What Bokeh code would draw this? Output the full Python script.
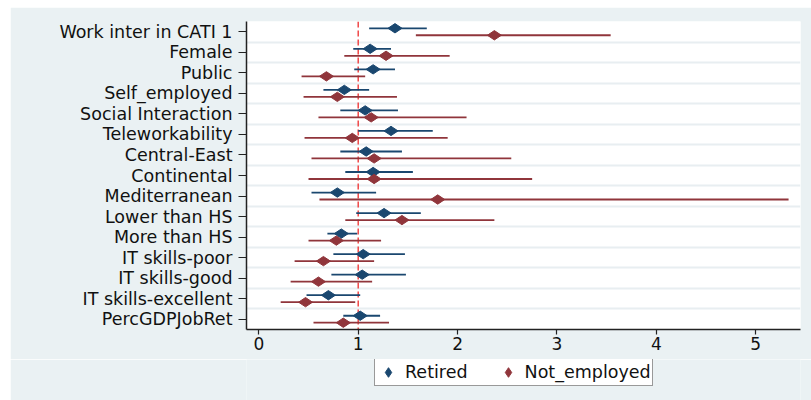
import numpy as np
from bokeh.plotting import figure
from bokeh.layouts import column
from bokeh.models import (Range1d, FixedTicker, Grid, Span, Legend, LegendItem,
                          ColumnDataSource)
from bokeh.embed import file_html
from bokeh.resources import INLINE

# ---------------- data ----------------
categories = ["Work inter in CATI 1", "Female", "Public", "Self_employed",
              "Social Interaction", "Teleworkability", "Central-East",
              "Continental", "Mediterranean", "Lower than HS", "More than HS",
              "IT skills-poor", "IT skills-good", "IT skills-excellent",
              "PercGDPJobRet"]

retired_est = [1.37, 1.12, 1.15, 0.86, 1.07, 1.33, 1.08, 1.15, 0.79, 1.26,
               0.83, 1.05, 1.04, 0.70, 1.02]
retired_lo = [1.11, 0.95, 0.96, 0.65, 0.82, 1.00, 0.82, 0.87, 0.53, 0.98,
              0.69, 0.75, 0.73, 0.48, 0.85]
retired_hi = [1.69, 1.33, 1.37, 1.11, 1.40, 1.75, 1.44, 1.55, 1.18, 1.63,
              0.99, 1.47, 1.48, 1.02, 1.22]

notemp_est = [2.37, 1.28, 0.68, 0.79, 1.13, 0.94, 1.16, 1.16, 1.80, 1.44,
              0.78, 0.65, 0.60, 0.47, 0.85]
notemp_lo = [1.58, 0.86, 0.43, 0.45, 0.60, 0.46, 0.53, 0.50, 0.61, 0.87,
             0.50, 0.36, 0.32, 0.22, 0.55]
notemp_hi = [3.54, 1.92, 1.07, 1.39, 2.09, 1.90, 2.54, 2.75, 5.33, 2.37,
             1.23, 1.16, 1.14, 0.97, 1.31]

series_names = ["Retired", "Not_employed"]
x_ticks = [0, 1, 2, 3, 4, 5]
ref_x = 1

# ---------------- style ----------------
BG = "#eaf1f3"
BLUE = "#1a476f"
RED = "#90353b"
FONT = "DejaVu Sans"
OFFSET = 0.17

pos = np.arange(1, len(categories) + 1)

src_ret = ColumnDataSource(dict(y=pos - OFFSET, est=retired_est,
                                lo=retired_lo, hi=retired_hi))
src_ne = ColumnDataSource(dict(y=pos + OFFSET, est=notemp_est,
                               lo=notemp_lo, hi=notemp_hi))

p = figure(frame_width=554, frame_height=308,
           output_backend="svg", toolbar_location=None,
           x_range=Range1d(-0.124, 5.45),
           y_range=Range1d(len(categories) + 0.5, 0.5),
           min_border_left=236, min_border_right=11,
           min_border_top=14, min_border_bottom=30,
           margin=(7, 0, 0, 10))
p.background_fill_color = "white"
p.border_fill_color = BG
p.outline_line_color = None
p.xgrid.visible = False
p.ygrid.visible = False

# between-category grid lines
grid = Grid(dimension=1,
            ticker=FixedTicker(ticks=list(pos[:-1] + 0.5)),
            grid_line_color="#e8eef1", grid_line_width=2)
p.add_layout(grid)

# reference line
span = Span(location=ref_x, dimension="height", line_color="#f04848",
            line_dash="6 3", line_width=1.5, level="underlay")
p.add_layout(span)

# series
marker_kw = dict(marker="diamond", size=14, angle=np.pi / 2)
p.segment(x0="lo", y0="y", x1="hi", y1="y", source=src_ret,
          line_color=BLUE, line_width=1.8)
p.scatter(x="est", y="y", source=src_ret, fill_color=BLUE, line_color=BLUE,
          **marker_kw)
p.segment(x0="lo", y0="y", x1="hi", y1="y", source=src_ne,
          line_color=RED, line_width=1.8)
p.scatter(x="est", y="y", source=src_ne, fill_color=RED, line_color=RED,
          **marker_kw)

# axes
for ax in (p.xaxis[0], p.yaxis[0]):
    ax.axis_line_color = "#222222"
    ax.axis_line_width = 1.5
    ax.major_tick_line_color = "#222222"
    ax.major_tick_line_width = 1.2
    ax.major_tick_in = 0
    ax.minor_tick_line_color = None
    ax.major_label_text_font = FONT
    ax.major_label_text_color = "#111111"

p.xaxis.ticker = FixedTicker(ticks=x_ticks)
p.xaxis.major_tick_out = 5
p.xaxis.major_label_standoff = 2
p.xaxis.major_label_text_font_size = "17px"

p.yaxis.ticker = FixedTicker(ticks=list(pos))
p.yaxis.major_label_overrides = {int(i): c for i, c in zip(pos, categories)}
p.yaxis.major_tick_out = 8
p.yaxis.major_label_standoff = 6
p.yaxis.major_label_text_font_size = "17.5px"

# ---------------- legend strip (separate figure below) ----------------
pl = figure(frame_width=554, frame_height=41, output_backend="svg",
            toolbar_location=None, x_range=Range1d(0, 6),
            y_range=Range1d(-2, -1), x_axis_type=None, y_axis_type=None,
            min_border_left=236, min_border_right=11,
            min_border_top=0, min_border_bottom=0,
            margin=(0, 0, 0, 10))
pl.background_fill_color = BG
pl.border_fill_color = BG
pl.outline_line_color = None
pl.xgrid.visible = False
pl.ygrid.visible = False

# same series drawn in this strip (outside its visible range) only to key the legend
l_ret = pl.scatter(x="est", y="y", source=src_ret, fill_color=BLUE,
                   line_color=BLUE, **marker_kw)
l_ne = pl.scatter(x="est", y="y", source=src_ne, fill_color=RED,
                  line_color=RED, **marker_kw)

legend = Legend(items=[LegendItem(label=series_names[0], renderers=[l_ret]),
                       LegendItem(label=series_names[1], renderers=[l_ne])],
                orientation="horizontal", location=(128, 14),
                label_text_font=FONT, label_text_font_size="17.5px",
                label_text_color="#111111",
                glyph_width=24, glyph_height=24, label_height=24,
                label_standoff=5, spacing=28, padding=1, margin=0,
                border_line_color="#333333", border_line_width=1,
                background_fill_color="white", background_fill_alpha=1)
pl.add_layout(legend, "center")

layout = column(p, pl, spacing=0)

open("out.html", "w").write(file_html(layout, INLINE))
